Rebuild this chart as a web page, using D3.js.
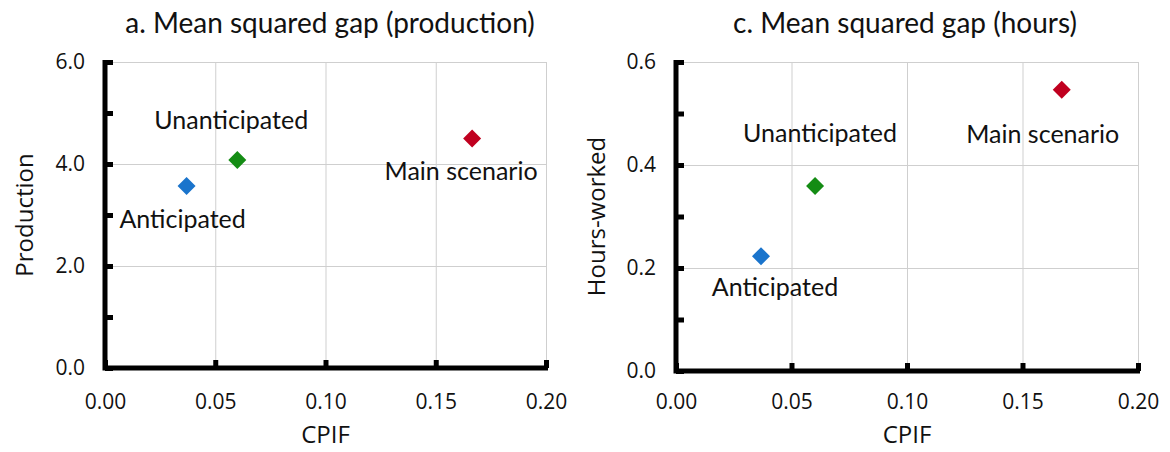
<!DOCTYPE html>
<html>
<head>
<meta charset="utf-8">
<script src="https://cdn.jsdelivr.net/npm/d3@7"></script>
<style>
  body { margin: 0; background: #fff; }
  .tick-lbl text { font-family: "Open Sans", sans-serif; font-size: 21px; fill: #111; }
  .grid line { stroke: #cfcfcf; stroke-width: 1; }
  .grid path { display: none; }
  .stub line { stroke: #000; stroke-width: 5; }
  .stub path { display: none; }
  .note { font-family: "Lato", sans-serif; font-size: 25px; fill: #111; }
  .title { font-family: "Lato", sans-serif; font-size: 28px; fill: #111; }
  .axlab { font-family: "Open Sans", sans-serif; font-size: 24px; fill: #111; }
</style>
</head>
<body>
<script>
// scenario names and values
var scenarios = ["Anticipated", "Unanticipated", "Main scenario"];
var colors = ["#1a74cc", "#148c14", "#c0001f"];

// panel a: production
var cpifProd = [0.037, 0.060, 0.1665];
var production = [3.57, 4.08, 4.50];

// panel c: hours
var cpifHours = [0.0368, 0.0602, 0.167];
var hoursWorked = [0.223, 0.359, 0.546];

var xTicks = [0, 0.05, 0.10, 0.15, 0.20];
var prodTicks = [0, 2, 4, 6];
var prodMinor = [0, 1, 2, 3, 4, 5, 6];
var hoursTicks = [0, 0.2, 0.4, 0.6];
var hoursMinor = [0, 0.1, 0.2, 0.3, 0.4, 0.5, 0.6];

var width = 1170;
var height = 452;

var svg = d3.select("body").append("svg").attr("width", width).attr("height", height);

var panels = [
  {
    title: "a. Mean squared gap (production)", ylab: "Production",
    xs: cpifProd, ys: production, ymax: 6, yTicks: prodTicks, yMinor: prodMinor, yFmt: d3.format(".1f"),
    left: 105, right: 546, top: 62, bottom: 368, titleX: 330, ylabX: 25,
    notes: [[-4, 42], [-6, -31], [-11, 41]]
  },
  {
    title: "c. Mean squared gap (hours)", ylab: "Hours-worked",
    xs: cpifHours, ys: hoursWorked, ymax: 0.6, yTicks: hoursTicks, yMinor: hoursMinor, yFmt: d3.format(".1f"),
    left: 676, right: 1138, top: 62, bottom: 371, titleX: 905, ylabX: 597,
    notes: [[14, 40], [5, -44], [-19, 53]]
  }
];

panels.forEach(function (p) {
  var g = svg.append("g");
  var x = d3.scaleLinear().domain([0, 0.2]).range([p.left, p.right]);
  var y = d3.scaleLinear().domain([0, p.ymax]).range([p.bottom, p.top]);
  var w = p.right - p.left;
  var h = p.bottom - p.top;

  // gridlines
  g.append("g").attr("class", "grid")
    .attr("transform", "translate(0," + p.bottom + ")")
    .call(d3.axisBottom(x).tickValues(xTicks).tickSize(-h).tickFormat(""));
  g.append("g").attr("class", "grid")
    .attr("transform", "translate(" + p.left + ",0)")
    .call(d3.axisLeft(y).tickValues(p.yTicks).tickSize(-w).tickFormat(""));

  // tick stubs pointing inward
  g.append("g").attr("class", "stub")
    .attr("transform", "translate(0," + p.bottom + ")")
    .call(d3.axisBottom(x).tickValues(xTicks).tickSize(-8).tickFormat(""));
  g.append("g").attr("class", "stub")
    .attr("transform", "translate(" + p.left + ",0)")
    .call(d3.axisLeft(y).tickValues(p.yMinor).tickSize(-8).tickFormat(""));

  // axis lines
  g.append("path")
    .attr("d", "M" + p.left + "," + (p.top - 2) + "V" + p.bottom + "H" + (p.right + 2))
    .attr("fill", "none").attr("stroke", "#000").attr("stroke-width", 5);

  // tick labels
  var xl = g.append("g").attr("class", "tick-lbl")
    .attr("transform", "translate(0," + (394 - 22) + ")")
    .call(d3.axisBottom(x).tickValues(xTicks).tickSize(0).tickPadding(22).tickFormat(d3.format(".2f")));
  xl.select(".domain").remove();
  var yl = g.append("g").attr("class", "tick-lbl")
    .attr("transform", "translate(" + (p.left - 20) + ",0)")
    .call(d3.axisLeft(y).tickValues(p.yTicks).tickSize(0).tickPadding(0).tickFormat(p.yFmt));
  yl.select(".domain").remove();

  // titles
  g.append("text").attr("class", "title").attr("x", p.titleX).attr("y", 33)
    .attr("text-anchor", "middle").text(p.title);
  g.append("text").attr("class", "axlab").attr("x", (p.left + p.right) / 2).attr("y", 443)
    .attr("text-anchor", "middle").text("CPIF");
  g.append("text").attr("class", "axlab")
    .attr("transform", "translate(" + p.ylabX + "," + ((p.top + p.bottom) / 2) + ") rotate(-90)")
    .attr("dy", "0.35em").attr("text-anchor", "middle").text(p.ylab);

  // points
  var pts = scenarios.map(function (s, i) { return { name: s, x: p.xs[i], y: p.ys[i], c: colors[i], off: p.notes[i] }; });
  g.selectAll(".pt").data(pts).enter().append("path").attr("class", "pt")
    .attr("d", "M0,-9L9,0L0,9L-9,0Z")
    .attr("transform", function (d) { return "translate(" + x(d.x) + "," + y(d.y) + ")"; })
    .attr("fill", function (d) { return d.c; });
  g.selectAll(".note").data(pts).enter().append("text").attr("class", "note")
    .attr("x", function (d) { return x(d.x) + d.off[0]; })
    .attr("y", function (d) { return y(d.y) + d.off[1]; })
    .attr("text-anchor", "middle")
    .text(function (d) { return d.name; });
});
</script>
</body>
</html>
